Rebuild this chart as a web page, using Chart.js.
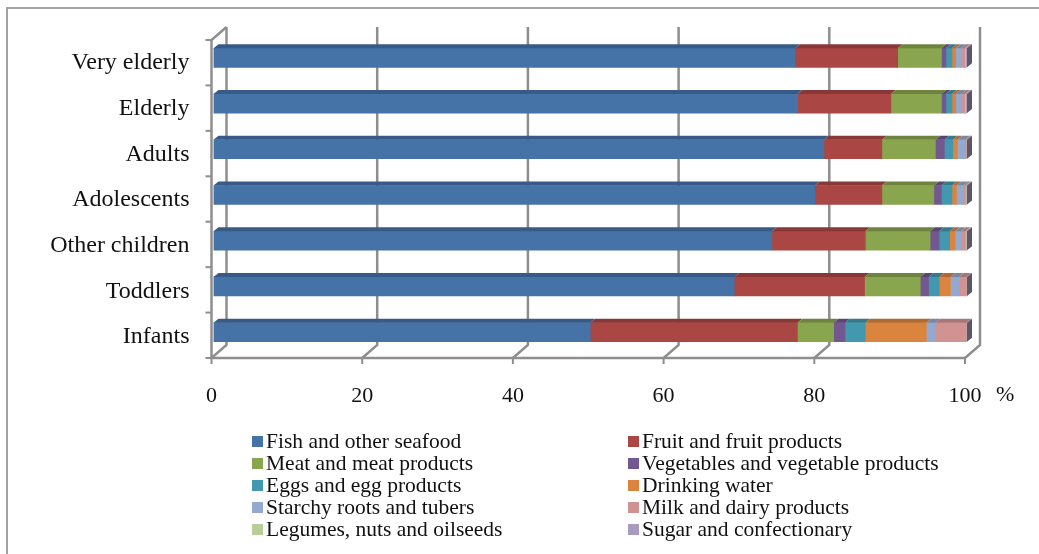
<!DOCTYPE html>
<html>
<head>
<meta charset="utf-8">
<script src="https://cdn.jsdelivr.net/npm/chart.js@4/dist/chart.umd.min.js"></script>
<style>
  html, body { margin: 0; padding: 0; background: #fff; }
  #wrap { position: relative; width: 1039px; height: 554px; overflow: hidden; }
  #frame { position: absolute; left: 6px; top: 7px; width: 1100px; height: 600px;
           border: 2px solid #a3a3a3; box-sizing: border-box; }
  #chart { position: absolute; left: 0; top: 0; }
  #legend { position: absolute; left: 252px; top: 430px; display: grid;
            grid-template-columns: 376px 380px; grid-auto-rows: 22px;
            font-family: "Liberation Serif", "Times New Roman", serif; font-size: 21.5px; color: #111; }
  .item { display: flex; align-items: center; white-space: nowrap; }
  .box { width: 11px; height: 11px; margin-right: 3px; flex: none; }
</style>
</head>
<body>
<div id="wrap">
  <div id="frame"></div>
  <canvas id="chart" width="1039" height="554"></canvas>
  <div id="legend"></div>
</div>
<script>
// Age groups, top to bottom
const categories = ['Very elderly', 'Elderly', 'Adults', 'Adolescents', 'Other children', 'Toddlers', 'Infants'];

// Contribution of each food group (%)
const fishSeafood   = [77.2, 77.5, 81.0, 79.8, 74.1, 69.1, 50.0];
const fruit         = [13.6, 12.4,  7.7,  8.9, 12.4, 17.3, 27.5];
const meat          = [ 5.8,  6.7,  7.1,  6.9,  8.6,  7.4,  4.8];
const vegetables    = [ 0.6,  0.6,  1.2,  1.0,  1.2,  1.1,  1.5];
const eggs          = [ 0.8,  0.8,  1.1,  1.4,  1.4,  1.4,  2.7];
const drinkingWater = [ 0.5,  0.5,  0.6,  0.6,  0.7,  1.5,  8.1];
const starchyRoots  = [ 0.7,  0.7,  1.0,  0.9,  0.8,  1.1,  1.2];
const milkDairy     = [ 0.5,  0.5,  0.2,  0.3,  0.6,  1.0,  4.1];
const legumesNuts   = [ 0.1,  0.1,  0.0,  0.1,  0.1,  0.0,  0.0];
const sugarConf     = [ 0.2,  0.2,  0.1,  0.1,  0.1,  0.1,  0.1];

const seriesNames = [
  'Fish and other seafood', 'Fruit and fruit products',
  'Meat and meat products', 'Vegetables and vegetable products',
  'Eggs and egg products', 'Drinking water',
  'Starchy roots and tubers', 'Milk and dairy products',
  'Legumes, nuts and oilseeds', 'Sugar and confectionary'
];
const seriesValues = [fishSeafood, fruit, meat, vegetables, eggs, drinkingWater,
                      starchyRoots, milkDairy, legumesNuts, sugarConf];

const xTickValues = [0, 20, 40, 60, 80, 100];

// Styling
const palette = ['#4572a7', '#aa4643', '#89a54e', '#71588f', '#4198af', '#db843d',
                 '#93a9cf', '#d19392', '#b9cd96', '#a99bbd'];
const FONT = '"Liberation Serif", "Times New Roman", serif';

function shade(hex, f) {
  const n = parseInt(hex.slice(1), 16);
  const r = Math.round(((n >> 16) & 255) * f);
  const g = Math.round(((n >> 8) & 255) * f);
  const b = Math.round((n & 255) * f);
  return `rgb(${r},${g},${b})`;
}

// Offsets of the front and back planes of the pseudo-3D frame, relative to the chart area
const frontOff = { dx: -2, top: 5, bottom: 3 };
const backOff  = { dx: 13, top: -8, bottom: -10 };
const barSkew  = { dx: 5, dy: 4 };

const wallPlugin = {
  id: 'wall3d',
  beforeDatasetsDraw(chart) {
    const { ctx, chartArea: a, scales: { x } } = chart;
    const fTop = a.top + frontOff.top, fBot = a.bottom + frontOff.bottom;
    const bTop = a.top + backOff.top, bBot = a.bottom + backOff.bottom;
    ctx.save();
    ctx.strokeStyle = '#8e8e8e';
    ctx.lineWidth = 2.5;
    // back wall gridlines running down onto the floor
    x.ticks.forEach(t => {
      const px = x.getPixelForValue(t.value);
      ctx.beginPath();
      ctx.moveTo(px + backOff.dx, bTop);
      ctx.lineTo(px + backOff.dx, bBot);
      ctx.lineTo(px + frontOff.dx, fBot);
      ctx.stroke();
    });
    const lx = x.getPixelForValue(0) + frontOff.dx;
    const rx = x.getPixelForValue(100) + frontOff.dx;
    // side wall top edge, front vertical axis and front floor edge
    ctx.beginPath();
    ctx.moveTo(x.getPixelForValue(0) + backOff.dx, bTop);
    ctx.lineTo(lx, fTop);
    ctx.lineTo(lx, fBot);
    ctx.lineTo(rx + 1, fBot);
    ctx.stroke();
    // tick marks
    ctx.lineWidth = 2;
    const n = categories.length;
    for (let i = 0; i <= n; i++) {
      const yy = fTop + (fBot - fTop) * i / n;
      ctx.beginPath();
      ctx.moveTo(lx - 6, yy);
      ctx.lineTo(lx, yy);
      ctx.stroke();
    }
    x.ticks.forEach(t => {
      const px = x.getPixelForValue(t.value) + frontOff.dx;
      ctx.beginPath();
      ctx.moveTo(px, fBot);
      ctx.lineTo(px, fBot + 6);
      ctx.stroke();
    });
    ctx.restore();
  },
  afterDatasetsDraw(chart) {
    const { ctx } = chart;
    ctx.save();
    const lastBar = {};
    chart.data.datasets.forEach((ds, di) => {
      const meta = chart.getDatasetMeta(di);
      meta.data.forEach((bar, i) => {
        if (!ds.data[i]) return;
        const p = bar.getProps(['x', 'base', 'y', 'height'], true);
        const yt = p.y - p.height / 2;
        ctx.fillStyle = shade(ds.backgroundColor, 0.8);
        ctx.beginPath();
        ctx.moveTo(p.base, yt);
        ctx.lineTo(p.base + barSkew.dx, yt - barSkew.dy);
        ctx.lineTo(p.x + barSkew.dx, yt - barSkew.dy);
        ctx.lineTo(p.x, yt);
        ctx.closePath();
        ctx.fill();
        lastBar[i] = { p, color: ds.backgroundColor };
      });
    });
    // right end face of each stack
    Object.values(lastBar).forEach(({ p, color }) => {
      const yt = p.y - p.height / 2, yb = p.y + p.height / 2;
      ctx.fillStyle = shade(color, 0.55);
      ctx.beginPath();
      ctx.moveTo(p.x, yt);
      ctx.lineTo(p.x + barSkew.dx, yt - barSkew.dy);
      ctx.lineTo(p.x + barSkew.dx, yb - barSkew.dy);
      ctx.lineTo(p.x, yb);
      ctx.closePath();
      ctx.fill();
    });
    ctx.restore();
  },
  afterDraw(chart) {
    const { ctx, scales: { x } } = chart;
    ctx.save();
    ctx.font = `22px ${FONT}`;
    ctx.fillStyle = '#111';
    ctx.textBaseline = 'middle';
    ctx.fillText('%', x.getPixelForValue(100) + 29, 395);
    ctx.restore();
  }
};

const datasets = seriesNames.map((name, i) => ({
  label: name,
  data: seriesValues[i],
  backgroundColor: palette[i],
  borderWidth: 0,
  barThickness: 19
}));

const chart = new Chart(document.getElementById('chart'), {
  type: 'bar',
  data: { labels: categories, datasets },
  options: {
    indexAxis: 'y',
    responsive: false,
    animation: false,
    layout: { padding: { left: 0, right: 72, top: 35, bottom: 0 } },
    plugins: { legend: { display: false }, tooltip: { enabled: false } },
    scales: {
      x: {
        stacked: true, min: 0, max: 100,
        grid: { display: false }, border: { display: false },
        afterBuildTicks(scale) { scale.ticks = xTickValues.map(v => ({ value: v })); },
        afterFit(scale) { scale.height = 199; },
        ticks: { color: '#111', padding: 20, labelOffset: -2, font: { family: FONT, size: 22 } }
      },
      y: {
        stacked: true,
        grid: { display: false }, border: { display: false },
        afterFit(scale) { scale.width = 213.5; },
        ticks: { color: '#111', padding: 16, labelOffset: 5, font: { family: FONT, size: 24 } }
      }
    }
  },
  plugins: [wallPlugin]
});

// Two-column legend built from the chart's datasets
const legendEl = document.getElementById('legend');
chart.data.datasets.forEach(ds => {
  const item = document.createElement('div');
  item.className = 'item';
  const box = document.createElement('span');
  box.className = 'box';
  box.style.background = ds.backgroundColor;
  const txt = document.createElement('span');
  txt.textContent = ds.label;
  item.appendChild(box);
  item.appendChild(txt);
  legendEl.appendChild(item);
});
</script>
</body>
</html>
